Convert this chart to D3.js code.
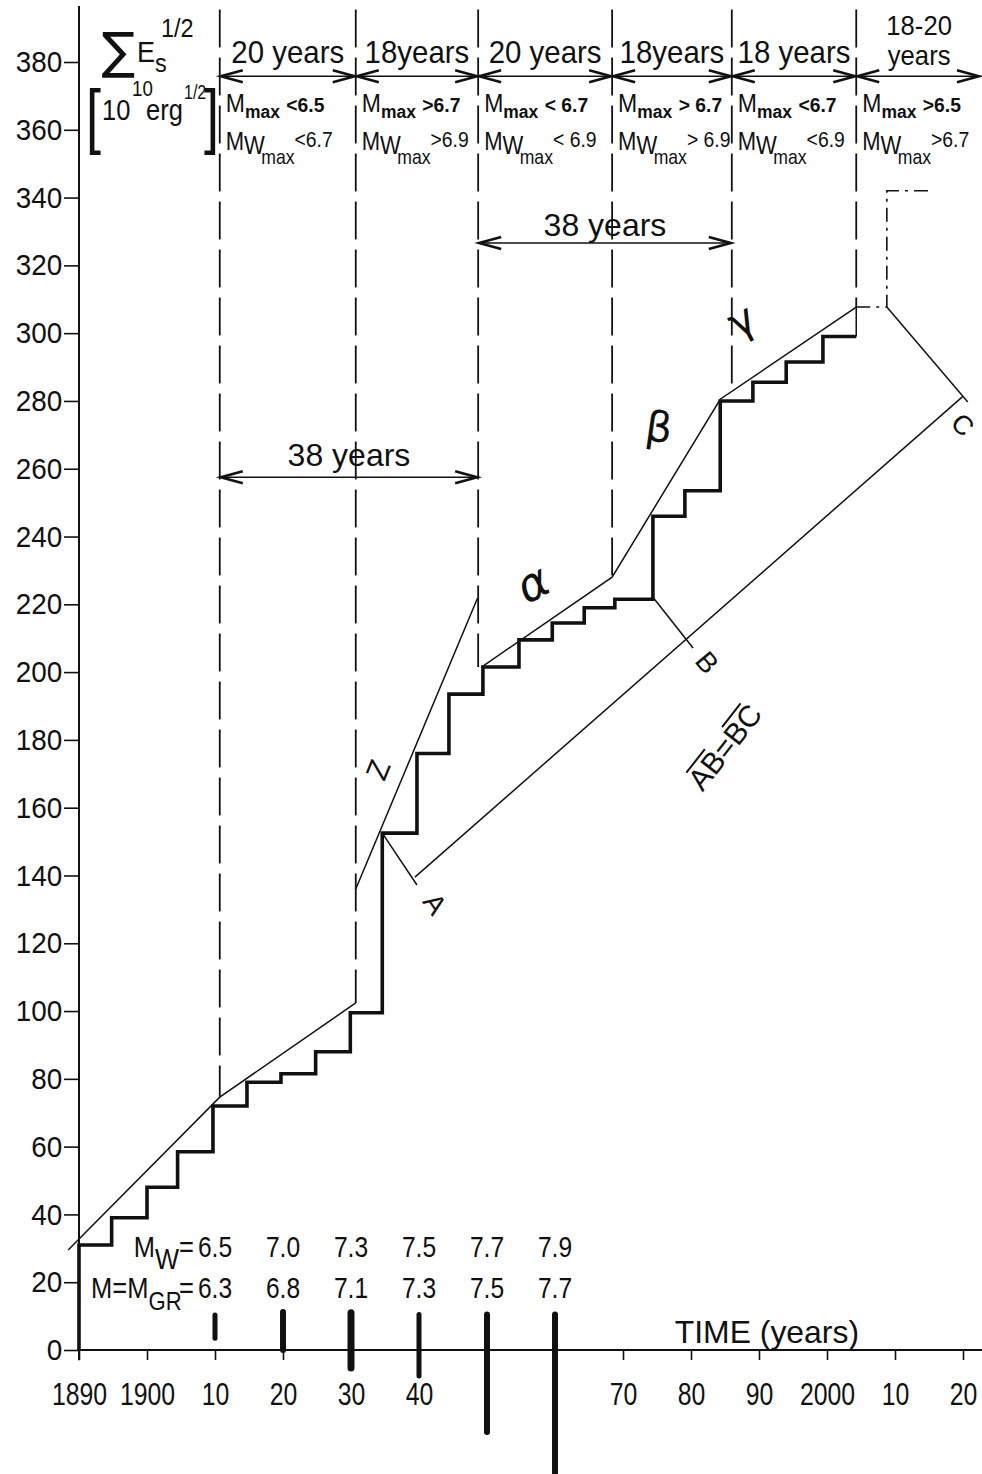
<!DOCTYPE html>
<html><head><meta charset="utf-8">
<script src="https://cdn.jsdelivr.net/npm/d3@7"></script>
<style>
body{margin:0;background:#fff;}
svg{display:block;background:#fff;}
text{font-family:"Liberation Sans","DejaVu Sans",Arial,sans-serif;fill:#111;}
</style></head><body>
<svg id="chart" width="982" height="1474"></svg>
<script>
// ---------------- DATA ----------------
const yTicks = [0,20,40,60,80,100,120,140,160,180,200,220,240,260,280,300,320,340,360,380];
const xTickYears = [1890,1900,1910,1920,1930,1940,1970,1980,1990,2000,2010,2020];
const xTickLabels = ["1890","1900","10","20","30","40","70","80","90","2000","10","20"];

// cumulative sqrt-energy staircase (level reached at each year)
const stairYears  = [1890,1890,1894.8,1900,1904.5,1909.7,1914.7,1919.7,1924.8,1929.9,1934.6,1939.7,1944.4,1949.4,1954.7,1959.6,1964.3,1968.8,1974.4,1979.1,1984.3,1989.1,1994.0,1999.4,2004.3];
const stairValues = [0,31,39,48,58.5,72,79,81.5,88,99.5,152.5,176,193.5,201.5,209.5,214.5,219,221.5,246,253.5,280,285.5,291.5,299,299];

// thin envelope lines
const trend1Years  = [1888.4,1910.7,1930.7];
const trend1Values = [29.5,74.6,102.4];
const zLineYears   = [1930.7,1948.6];
const zLineValues  = [136,221.8];
const trend2Years  = [1949.2,1968.4,1984.3,2004.3];
const trend2Values = [201.5,228,280.5,307.7];
const endStubYears = [2004.3,2004.3];
const endStubValues= [299,307.7];
// dash-dot forecast
const forecastYears  = [2004.3,2008.8,2008.8,2015.3];
const forecastValues = [307.7,307.7,342,342];

// AB = BC construction
const perpAYears = [1934.6,1939.7], perpAValues = [152.5,137.2];
const perpBYears = [1974.4,1980.3], perpBValues = [222.1,207.1];
const perpCYears = [2008.8,2020.7], perpCValues = [307.7,279.7];
const baseACYears = [1939.4,2019.9], baseACValues = [139.5,281.2];

// period boundaries (dashed verticals)
const boundaryYears   = [1910.7,1930.7,1948.7,1968.4,1986.0,2004.3];
const boundaryBottoms = [74.6,102.4,201.5,228,283.5,307.7];
const boundaryTop = 395.5;
const periodEnd = 2022.8;
const periodLabels = ["20 years","18years","20 years","18years","18 years","years"];
const mMaxLabels  = ["<6.5",">6.7","< 6.7","> 6.7","<6.7",">6.5"];
const mwMaxLabels = ["<6.7",">6.9","< 6.9","> 6.9","<6.9",">6.7"];

// 38-year spans
const span38Starts = [1910.7,1948.7];
const span38Ends   = [1948.7,1986.0];
const span38Levels = [257.5,326.6];

// large earthquakes (bars) and magnitudes
const eqYears = [1910,1920,1930,1940,1950,1960];
const eqMw = ["6.5","7.0","7.3","7.5","7.7","7.9"];
const eqM  = ["6.3","6.8","7.1","7.3","7.5","7.7"];
const eqBarTop    = [10.3,11.2,11,10.5,10.5,10.5];
const eqBarBottom = [3.5,0,-5.3,-7.7,-24.2,-38];
const eqBarWidth  = [5,6,7,5,6,6];

// ---------------- CHART ----------------
const svg = d3.select("#chart");
const x = d3.scaleLinear().domain([1890,2020]).range([79,963]);
const y = d3.scaleLinear().domain([0,380]).range([1350,62]);
const line = d3.line().x(d=>x(d[0])).y(d=>y(d[1]));
const zip = (a,b)=>a.map((v,i)=>[v,b[i]]);

function label(px,py,str,o={}){
  const g = svg.append("g").attr("transform",
    `translate(${px},${py}) rotate(${o.rot||0}) scale(${o.sx||1},1)`);
  const t = g.append("text").attr("text-anchor",o.anchor||"start")
    .attr("font-size",o.size||28).text(str);
  if(o.weight) t.attr("font-weight",o.weight);
  if(o.family) t.style("font-family",o.family);
  if(o.style) t.attr("font-style",o.style);
  return t;
}

// boundaries
svg.append("g").selectAll("line").data(boundaryYears).join("line")
  .attr("x1",d=>x(d)).attr("x2",d=>x(d))
  .attr("y1",y(boundaryTop)).attr("y2",(d,i)=>y(boundaryBottoms[i]))
  .attr("stroke","#111").attr("stroke-width",1.8).attr("stroke-dasharray","38,10");

// axes
const yAxis = d3.axisLeft(y).tickValues(yTicks).tickSize(15).tickPadding(3);
const gy = svg.append("g").attr("transform",`translate(${x(1890)},0)`).call(yAxis);
gy.select(".domain").remove();
gy.selectAll(".tick line").attr("stroke","#111").attr("stroke-width",1.6);
gy.selectAll(".tick text").attr("font-size",30).attr("fill","#111")
  .style("font-family","'Liberation Sans','DejaVu Sans',sans-serif")
  .attr("transform","scale(0.93,1)");
svg.append("line").attr("x1",x(1890)).attr("x2",x(1890))
  .attr("y1",y(boundaryTop+1)).attr("y2",y(-3)).attr("stroke","#111").attr("stroke-width",2);

const xAxis = d3.axisBottom(x).tickValues(xTickYears).tickSize(10)
  .tickFormat((d,i)=>xTickLabels[i]);
const gx = svg.append("g").attr("transform",`translate(0,${y(0)})`).call(xAxis);
gx.select(".domain").remove();
gx.selectAll(".tick line").attr("stroke","#111").attr("stroke-width",1.6);
gx.selectAll(".tick text").attr("font-size",31).attr("fill","#111").attr("y",55).attr("dy",0)
  .style("font-family","'Liberation Sans','DejaVu Sans',sans-serif")
  .attr("transform","scale(0.8,1)");
svg.append("line").attr("x1",x(1890)-2).attr("x2",x(2022.8))
  .attr("y1",y(0)).attr("y2",y(0)).attr("stroke","#111").attr("stroke-width",2);

// thin lines
[[trend1Years,trend1Values],[zLineYears,zLineValues],[trend2Years,trend2Values],
 [endStubYears,endStubValues],[perpAYears,perpAValues],[perpBYears,perpBValues],
 [perpCYears,perpCValues],[baseACYears,baseACValues]].forEach(([a,b])=>{
  svg.append("path").attr("d",line(zip(a,b))).attr("fill","none")
    .attr("stroke","#111").attr("stroke-width",1.5);
});
svg.append("path").attr("d",line(zip(forecastYears,forecastValues))).attr("fill","none")
  .attr("stroke","#111").attr("stroke-width",1.6).attr("stroke-dasharray","14,6,3,6");

// staircase
svg.append("path")
  .attr("d",d3.line().curve(d3.curveStepAfter).x(d=>x(d[0])).y(d=>y(d[1]))(zip(stairYears,stairValues)))
  .attr("fill","none").attr("stroke","#111").attr("stroke-width",3.6).attr("stroke-linejoin","miter");

// earthquake bars
svg.append("g").selectAll("line").data(eqYears).join("line")
  .attr("x1",d=>x(d)).attr("x2",d=>x(d))
  .attr("y1",(d,i)=>y(eqBarTop[i])).attr("y2",(d,i)=>y(eqBarBottom[i]))
  .attr("stroke","#111").attr("stroke-width",(d,i)=>eqBarWidth[i]).attr("stroke-linecap","round");

// double arrows
function dblArrow(x1,x2,yy){
  const X1=x(x1), X2=x(x2), Y=y(yy);
  svg.append("line").attr("x1",X1).attr("x2",X2).attr("y1",Y).attr("y2",Y)
    .attr("stroke","#111").attr("stroke-width",1.6);
  const head = (X,dir)=>`M${X+dir*22},${Y-6}L${X},${Y}L${X+dir*22},${Y+6}`;
  svg.append("path").attr("d",head(X1+1,1)+head(X2-1,-1)).attr("fill","none")
    .attr("stroke","#111").attr("stroke-width",2.6).attr("stroke-linejoin","miter");
}
const headerArrowLevel = 375.8;
boundaryYears.forEach((b,i)=>{
  const e = i<boundaryYears.length-1 ? boundaryYears[i+1] : periodEnd-0.3;
  dblArrow(b,e,headerArrowLevel);
});
span38Starts.forEach((s,i)=>dblArrow(s,span38Ends[i],span38Levels[i]));

// header texts
boundaryYears.forEach((b,i)=>{
  const e = i<boundaryYears.length-1 ? boundaryYears[i+1] : periodEnd;
  const cx = (x(b)+x(e))/2;
  label(cx,i===5?65:63,periodLabels[i],{size:i===5?27:31,anchor:"middle",sx:0.95});
  const left = x(b)+6;
  const g1 = svg.append("g").attr("transform",`translate(${left},112) scale(0.92,1)`);
  const t1 = g1.append("text").attr("font-size",25);
  t1.append("tspan").text("M");
  t1.append("tspan").attr("font-size",19).attr("font-weight","bold").attr("dy",6).text("max");
  t1.append("tspan").attr("font-size",21).attr("font-weight","bold").attr("dy",-6).attr("dx",7).text(mMaxLabels[i]);
  const g2 = svg.append("g").attr("transform",`translate(${left},150) scale(0.88,1)`);
  const t2 = g2.append("text").attr("font-size",25);
  t2.append("tspan").text("M");
  t2.append("tspan").attr("dy",4).text("W");
  t2.append("tspan").attr("font-size",20).attr("dy",10).attr("dx",-4).text("max");
  t2.append("tspan").attr("font-size",22).attr("dy",-17).attr("dx",0).text(mwMaxLabels[i]);
});
label((x(2004.3)+x(periodEnd))/2,35,"18-20",{size:27,anchor:"middle",sx:0.95});

// y-axis title
label(118,68,"∑",{size:50,anchor:"middle",family:"'DejaVu Sans',sans-serif"});
label(137,62,"E",{size:30,sx:0.9});
label(155,72,"s",{size:26,sx:0.9});
label(161,37,"1/2",{size:26,sx:0.9});
label(86,140,"[",{size:72,sx:0.75});
label(102,120,"10",{size:30,sx:0.85});
label(132,96,"10",{size:22,sx:0.85});
label(146,120,"erg",{size:30,sx:0.85});
label(184,99,"1/2",{size:20,sx:0.8});
label(204,140,"]",{size:72,sx:0.75});

// 38 years
label((x(1910.7)+x(1948.7))/2,466,"38 years",{size:32,anchor:"middle"});
label((x(1948.7)+x(1986.0))/2,236,"38 years",{size:32,anchor:"middle"});

// magnitudes
const mwG = svg.append("g").attr("transform",`translate(${x(1906.9)},1257) scale(0.85,1)`);
const mwT = mwG.append("text").attr("font-size",30).attr("text-anchor","end");
mwT.append("tspan").text("M"); mwT.append("tspan").attr("dy",12).text("W");
mwT.append("tspan").attr("dy",-12).text("=");
const mG = svg.append("g").attr("transform",`translate(${x(1906.9)},1298) scale(0.85,1)`);
const mT = mG.append("text").attr("font-size",30).attr("text-anchor","end");
mT.append("tspan").text("M=M"); mT.append("tspan").attr("font-size",26).attr("dy",12).text("GR");
mT.append("tspan").attr("dy",-12).attr("dx",-3).text("=");
eqYears.forEach((yr,i)=>{
  label(x(yr),1257,eqMw[i],{size:30,anchor:"middle",sx:0.82});
  label(x(yr),1298,eqM[i],{size:30,anchor:"middle",sx:0.82});
});

label(x(1977.6),y(2.1),"TIME (years)",{size:31,sx:1.03});

// letters
label(x(1941.2),y(130),"A",{size:28,rot:55,anchor:"middle"});
label(x(1981.3),y(201),"B",{size:28,rot:50,anchor:"middle"});
label(x(2019.0),y(271),"C",{size:27,rot:45,anchor:"middle"});
label(x(1935.4),y(170),"Z",{size:30,rot:-68,anchor:"middle"});
label(x(1957.8),y(222),"α",{size:46,rot:-28,anchor:"middle",style:"italic",family:"'DejaVu Sans',sans-serif"});
label(x(1975),y(268),"β",{size:42,rot:8,anchor:"middle",family:"'DejaVu Sans',sans-serif"});
label(x(1988.4),y(300),"γ",{size:42,rot:-28,anchor:"middle",family:"'DejaVu Sans',sans-serif"});

const abG = svg.append("g").attr("transform",`translate(${x(1986.2)},${y(176)}) rotate(-52)`);
abG.append("text").attr("text-anchor","middle").attr("font-size",30).text("AB=BC");
abG.append("line").attr("x1",-44).attr("x2",-14).attr("y1",-25).attr("y2",-25).attr("stroke","#111").attr("stroke-width",2);
abG.append("line").attr("x1",14).attr("x2",44).attr("y1",-25).attr("y2",-25).attr("stroke","#111").attr("stroke-width",2);
</script></body></html>
